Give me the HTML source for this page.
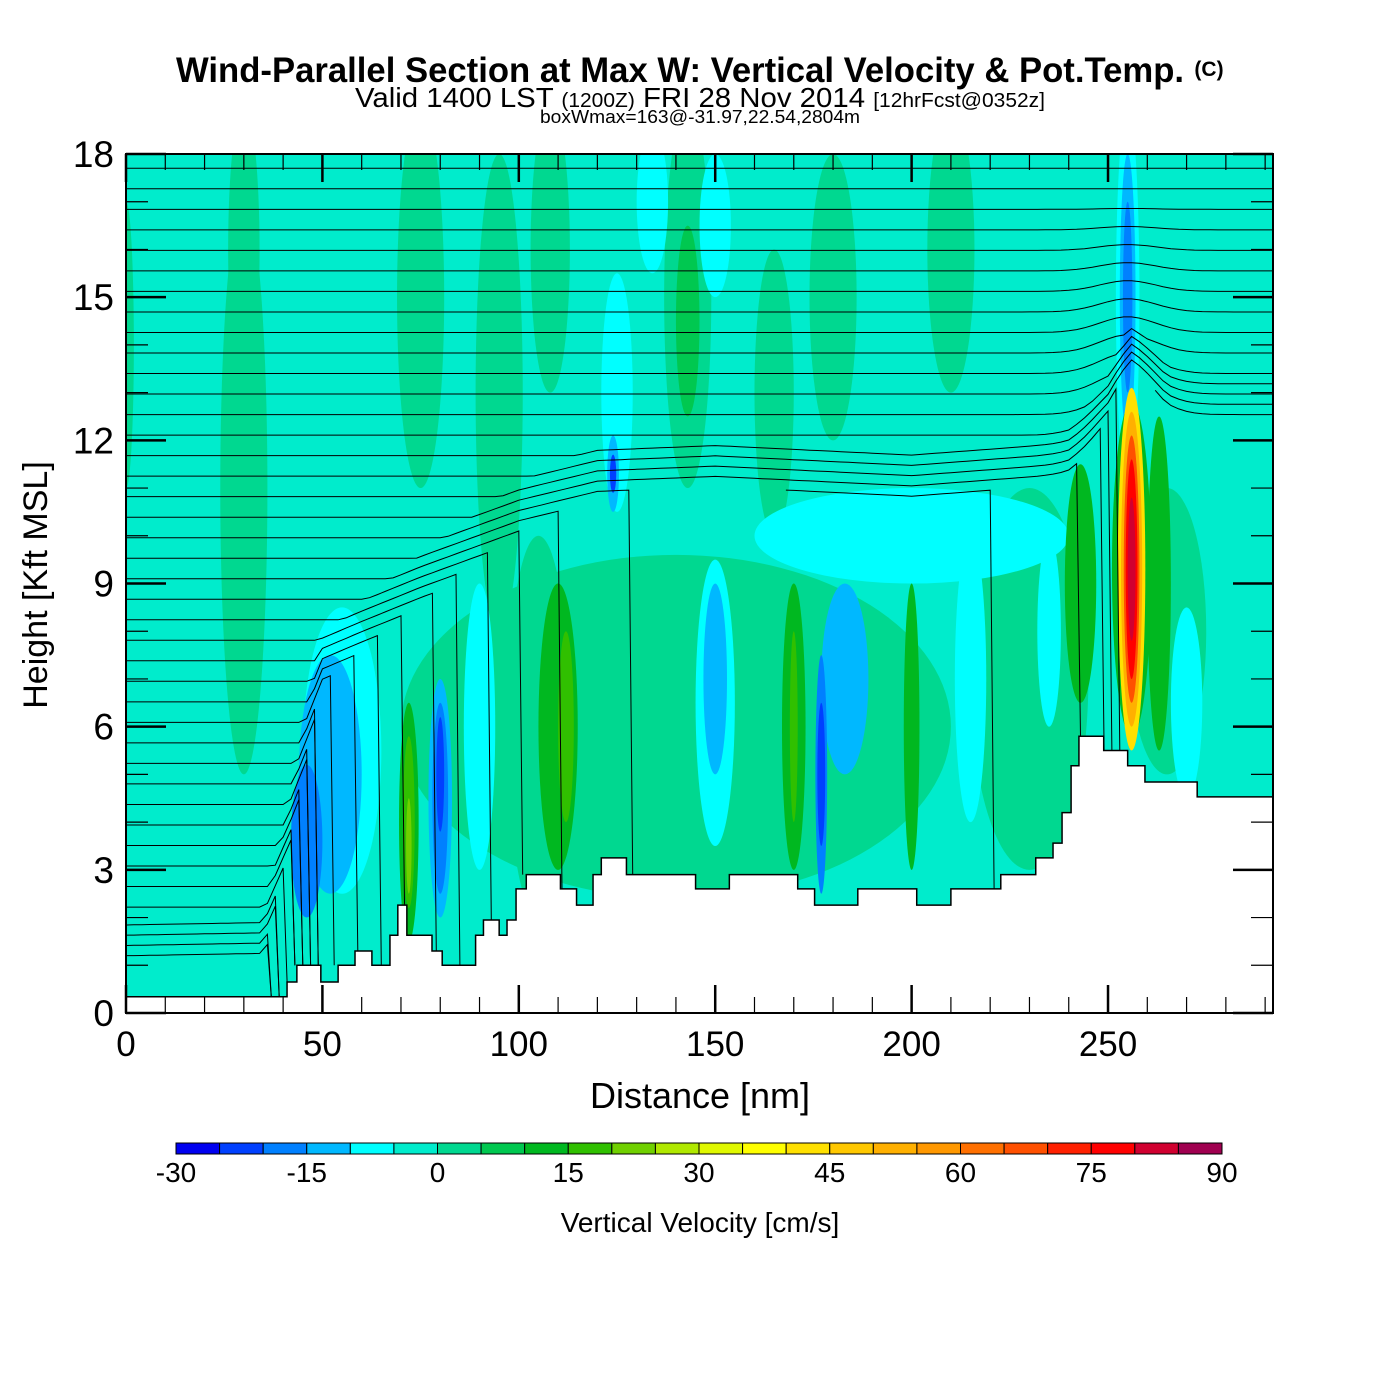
<!DOCTYPE html>
<html><head><meta charset="utf-8"><style>
body{margin:0;background:#fff;}
svg{display:block;font-family:"Liberation Sans",Arial,sans-serif;}
</style></head><body>
<svg id="chart" width="1400" height="1400" viewBox="0 0 1400 1400" xmlns="http://www.w3.org/2000/svg">
<rect width="1400" height="1400" fill="#fff"/>
<text x="680" y="82" text-anchor="middle" font-size="35" font-weight="bold" textLength="1008" lengthAdjust="spacingAndGlyphs">Wind-Parallel Section at Max W: Vertical Velocity &amp; Pot.Temp.</text>
<text x="1209" y="76" text-anchor="middle" font-size="21" font-weight="bold">(C)</text>
<text x="700" y="107" text-anchor="middle" font-size="28" textLength="690" lengthAdjust="spacingAndGlyphs">Valid 1400 LST <tspan font-size="20">(1200Z)</tspan> FRI 28 Nov 2014 <tspan font-size="20">[12hrFcst@0352z]</tspan></text>
<text x="700" y="123" text-anchor="middle" font-size="18" textLength="320" lengthAdjust="spacingAndGlyphs">boxWmax=163@-31.97,22.54,2804m</text>
<defs><clipPath id="pc"><rect x="126" y="154" width="1147" height="859"/></clipPath></defs>
<g id="plot" clip-path="url(#pc)"></g>
<g id="axes"></g>
<text x="700" y="1108" text-anchor="middle" font-size="36">Distance [nm]</text>
<text transform="translate(47,585) rotate(-90)" text-anchor="middle" font-size="34">Height [Kft MSL]</text>
<g id="cbar"></g>
<text x="700" y="1232" text-anchor="middle" font-size="28">Vertical Velocity [cm/s]</text>
</svg>
<script>
// ---- data ----
const binColors=["#0000f0","#0040ff","#0080ff","#00b8ff","#00ffff","#00eccc","#00d890","#00c850","#00b820","#30c000","#70d000","#b0e800","#e0f800","#ffff00","#ffe000","#ffc800","#ffb000","#ff9800","#ff7000","#ff5000","#ff2000","#ff0000","#d00030","#a00050"];
const cbarTicks=[-30,-15,0,15,30,45,60,75,90];
const xTicks=[0,50,100,150,200,250];
const yTicks=[0,3,6,9,12,15,18];
const bgBin=5;
// features: distance (nm), height (kft), half-width (nm), half-height (kft), bin
const featDist=[30,30,0,75,95,108,143,180,210,165,140,230,265,105, 200,125,134,150,255,55,90,150,215,235,270, 52,80,150,183,255,124, 46,80,177,255, 80,177,124, 72,110,170,200,243,263,143, 72,112,170,72, 256,256,256,256,256,256];
const featH=   [11,16,14,15,13,16,15,15,16,13,6,7,8,6, 10,13,17,16.5,15,5.5,6,6.5,7,8,6.5, 5,4.5,7,7,15,11.3, 3.6,4.5,5,15, 5,5,11.3, 4,6,6,6,9,9,14.5, 4,6,6,3.5, 9.3,9.3,9.3,9.3,9.3,9.3];
const featRX=  [6,4,2,6,6,5,6,6,6,5,70,15,10,8, 40,4,4,4,3,10,4,5,4,3,4, 8,3,3,6,2,1.5, 4,2,1.5,1.2, 1,1,0.8, 2.5,5,3,2,4,3,3, 1.5,2,1,0.7, 5,3.5,2.7,2,1.5,1];
const featRY=  [6,3,3,4,5,3,4,3,3,3,3.6,4,3,4, 1,2.5,1.5,1.5,4,3,3,3,3,2,2, 2.5,2.5,2,2,3,0.8, 1.6,2,2.5,2, 1.2,1.5,0.4, 2.5,3,3,3,2.5,3.5,2, 1.8,2,2,1, 3.5,3.8,3.3,2.8,2.3,1.5];
const featBin= [6,6,6,6,6,6,6,6,6,6,6,6,6,6, 4,4,4,4,4,4,4,4,4,4,4, 3,3,3,3,3,3, 2,2,2,2, 1,1,1, 8,8,8,8,8,8,7, 9,9,9,10, 8,14,16,19,21,22];
// terrain steps: start distance (nm), height (kft)
const terrX=[0,41,43.5,49.6,54,58.3,62.6,67.2,69.2,71.5,77.9,80.5,82.5,89,91,95,97,99.3,101.9,110.6,114.7,118.9,121,127.4,145,153.6,171,175.3,186.3,201.3,210,222.7,231.6,236,238.3,240.6,242.6,248.9,255,259.4,272.7,292];
const terrH=[0.34,0.65,1.0,0.65,1.0,1.3,1.0,1.63,2.26,1.63,1.3,1.0,1.0,1.63,1.95,1.63,1.95,2.6,2.9,2.6,2.26,2.9,3.25,2.9,2.6,2.9,2.6,2.26,2.6,2.26,2.6,2.9,3.25,3.56,4.2,5.18,5.8,5.5,5.18,4.84,4.53,4.53];
// mixed-layer top for potential temperature contours
const mlX=[0,35,42,50,60,75,100,120,150,200,240,250,256,265,292];
const mlH=[0.3,0.4,3,6.3,7,8,9.5,10.3,10.5,10.1,10.6,11.3,12.5,11.8,11.8];
const thetaBase=[0.5,0.93,1.36,1.79,2.22,2.65,3.08,3.51,3.94,4.37,4.8,5.23,5.66,6.09,6.52,6.95,7.38,7.81,8.24,8.67,9.1,9.53,9.96,10.39,10.82,11.25,11.68,12.11,12.54,12.97,13.4,13.83,14.26,14.69,15.12,15.55,15.98,16.41,16.84,17.27,17.7];
// ---- axes functions ----
const X=d=>126+d*1147/292, Y=h=>1013-h*859/18;
const NS="http://www.w3.org/2000/svg";
function mk(tag,attrs,parent){const e=document.createElementNS(NS,tag);for(const k in attrs)e.setAttribute(k,attrs[k]);parent.appendChild(e);return e;}
const plot=document.getElementById('plot');
const bg=mk('rect',{x:126,y:154,width:1147,height:859,fill:binColors[bgBin]},plot);


for(let i=0;i<featDist.length;i++){
  const e=mk('ellipse',{cx:X(featDist[i]),cy:Y(featH[i]),rx:featRX[i]*1147/292,ry:featRY[i]*859/18,fill:binColors[featBin[i]]},plot);
  
  
}
function interp(xs,ys,x){if(x<=xs[0])return ys[0];for(let i=1;i<xs.length;i++){if(x<=xs[i]){const t=(x-xs[i-1])/(xs[i]-xs[i-1]);return ys[i-1]+t*(ys[i]-ys[i-1]);}}return ys[ys.length-1];}
function terrAt(x){let h=terrH[0];for(let i=0;i<terrX.length;i++){if(x>=terrX[i])h=terrH[i];}return h;}
// theta contours (break where inside mixed layer, dropping to terrain)
for(let j=0;j<thetaBase.length;j++){
  const h0=thetaBase[j];let segs=[],cur=[];
  for(let d=0;d<=292;d+=2){
    const M=interp(mlX,mlH,d);
    if(h0<M-0.4){
      if(cur.length){cur.push(X(d-1).toFixed(1)+','+Y(terrAt(d)).toFixed(1));segs.push(cur);cur=[];}
      continue;
    }
    let h=Math.max(h0,M+0.6+0.5*(h0-(M-0.4)));
    if(h0>=M+2.2)h=Math.max(h0,h);
    if(h0>10&&h0<17){const w=Math.exp(-Math.pow((d-255)/10,2));h+=w*(17-h0)*0.12;}
    if(h<terrAt(d))h=terrAt(d);
    cur.push(X(d).toFixed(1)+','+Y(h).toFixed(1));
  }
  if(cur.length)segs.push(cur);
  segs.forEach(s=>{
    if(s.length<2)return;
    const p=mk('polyline',{points:s.join(' '),fill:'none',stroke:'#000','stroke-width':1},plot);
    
    
  });
}
// terrain
let tp=[X(0)+','+Y(0)];
for(let i=0;i<terrX.length;i++){const x0=X(terrX[i]),x1=X(i+1<terrX.length?terrX[i+1]:292);tp.push(x0+','+Y(terrH[i]));tp.push(x1+','+Y(terrH[i]));}
tp.push(X(292)+','+Y(0));
const terr=mk('polygon',{points:tp.join(' '),fill:'#fff',stroke:'#000','stroke-width':1.5},plot);


// axes
const ax=document.getElementById('axes');
const fr=mk('rect',{x:126,y:154,width:1147,height:859,fill:'none',stroke:'#000','stroke-width':2},ax);


for(let d=0;d<=290;d+=10){const maj=d%50==0,L=maj?28:16;
  mk('line',{x1:X(d),x2:X(d),y1:1013,y2:1013-L,stroke:'#000','stroke-width':maj?2.5:1.2},ax);
  mk('line',{x1:X(d),x2:X(d),y1:154,y2:154+L,stroke:'#000','stroke-width':maj?2.5:1.2},ax);}
for(let h=0;h<=18;h++){const maj=h%3==0,L=maj?40:22;
  mk('line',{x1:126,x2:126+L,y1:Y(h),y2:Y(h),stroke:'#000','stroke-width':maj?2.5:1.2},ax);
  mk('line',{x1:1273,x2:1273-L,y1:Y(h),y2:Y(h),stroke:'#000','stroke-width':maj?2.5:1.2},ax);}
xTicks.forEach(v=>{const t=mk('text',{x:X(v),y:1056,'text-anchor':'middle','font-size':35},ax);t.textContent=v;
  
  });
yTicks.forEach(v=>{const t=mk('text',{x:114,y:Y(v)+13,'text-anchor':'end','font-size':37},ax);t.textContent=v;
  
  });
// colorbar
const cb=document.getElementById('cbar');const cw=(1222-176)/binColors.length;
binColors.forEach((c,i)=>{const r=mk('rect',{x:176+i*cw,y:1143,width:cw,height:11,fill:c,stroke:'#000','stroke-width':1},cb);
  
  });
cbarTicks.forEach(v=>{const t=mk('text',{x:176+(v+30)/5*cw,y:1182,'text-anchor':'middle','font-size':28},cb);t.textContent=v;
  
  });
</script>
</body></html>
